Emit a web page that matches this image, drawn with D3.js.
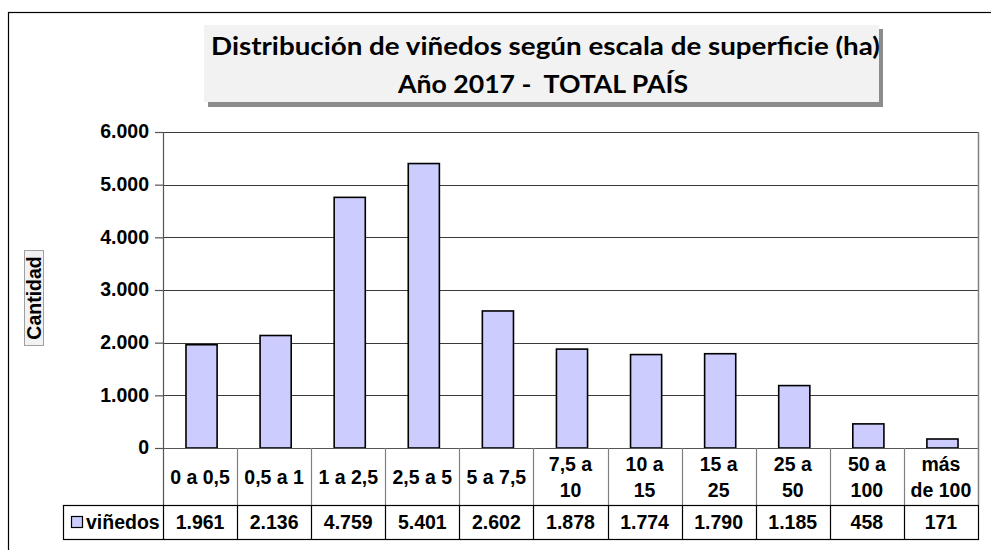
<!DOCTYPE html>
<html>
<head>
<meta charset="utf-8">
<script src="https://cdn.jsdelivr.net/npm/d3@7"></script>
<style>
  html, body { margin: 0; padding: 0; background: #fff; }
  svg { display: block; }
</style>
</head>
<body>
<script>
const categories = [["0 a 0,5"], ["0,5 a 1"], ["1 a 2,5"], ["2,5 a 5"], ["5 a 7,5"], ["7,5 a", "10"], ["10 a", "15"], ["15 a", "25"], ["25 a", "50"], ["50 a", "100"], ["más", "de 100"]];
const values = [1961, 2136, 4759, 5401, 2602, 1878, 1774, 1790, 1185, 458, 171];
const valueLabels = ["1.961", "2.136", "4.759", "5.401", "2.602", "1.878", "1.774", "1.790", "1.185", "458", "171"];
const yTicks = [0, 1000, 2000, 3000, 4000, 5000, 6000];
const yTickLabels = ["0", "1.000", "2.000", "3.000", "4.000", "5.000", "6.000"];
const seriesName = "viñedos";
const titleLines = ["Distribución de viñedos según escala de superficie (ha)", "Año 2017 -  TOTAL PAÍS"];
const yTitle = "Cantidad";

const W = 991, H = 550;
const plot = { left: 163, right: 978, top: 132, bottom: 448 };
const catRowBottom = 505, dataRowBottom = 539, legendLeft = 63;
const barColor = "#ccccff";
const font = "'Liberation Sans', Arial, sans-serif";
const fs = 19.5;

const svg = d3.select("body").append("svg").attr("width", W).attr("height", H);

// outer frame
svg.append("rect").attr("x", 8.5).attr("y", 12.5).attr("width", 1200).attr("height", 800)
  .attr("fill", "#fff").attr("stroke", "#000").attr("stroke-width", 1.2);

const keys = categories.map((c, i) => i);
const x = d3.scaleBand().domain(keys).range([plot.left, plot.right]).padding(0);
const y = d3.scaleLinear().domain([0, 6000]).range([plot.bottom, plot.top]);

// gridlines
svg.append("g").selectAll("line").data(yTicks.filter(t => t > 0)).join("line")
  .attr("x1", plot.left).attr("x2", plot.right)
  .attr("y1", d => Math.round(y(d)) + 0.5).attr("y2", d => Math.round(y(d)) + 0.5)
  .attr("stroke", "#3a3a3a").attr("stroke-width", 1);

// plot border right
svg.append("line").attr("x1", plot.right + 0.5).attr("x2", plot.right + 0.5)
  .attr("y1", plot.top).attr("y2", plot.bottom).attr("stroke", "#808080").attr("stroke-width", 1.5);

// bars
const bw = x.bandwidth() * 0.42;
svg.append("g").selectAll("rect").data(values).join("rect")
  .attr("x", (d, i) => x(i) + (x.bandwidth() - bw) / 2 + 1.5)
  .attr("width", bw)
  .attr("y", d => y(d))
  .attr("height", d => y(0) - y(d))
  .attr("fill", barColor).attr("stroke", "#000").attr("stroke-width", 1.6);

// y axis
const yAxis = d3.axisLeft(y).tickValues(yTicks).tickSize(8).tickPadding(6)
  .tickFormat((d, i) => yTickLabels[i]);
const ga = svg.append("g").attr("transform", `translate(${plot.left},0)`).call(yAxis);
ga.select(".domain").remove();
ga.selectAll(".tick line").attr("stroke", "#555").attr("stroke-width", 1.2);
ga.selectAll(".tick text").attr("font-family", font).attr("font-weight", "bold")
  .attr("font-size", fs).attr("fill", "#000").attr("dy", "0.3em");

// axis lines
svg.append("line").attr("x1", plot.left + 0.5).attr("x2", plot.left + 0.5)
  .attr("y1", plot.top).attr("y2", catRowBottom).attr("stroke", "#555").attr("stroke-width", 1.2);
svg.append("line").attr("x1", plot.left).attr("x2", plot.right + 1)
  .attr("y1", plot.bottom + 0.5).attr("y2", plot.bottom + 0.5).attr("stroke", "#555").attr("stroke-width", 1.2);

// category cells separators (gray)
svg.append("g").selectAll("line").data(keys.slice(1)).join("line")
  .attr("x1", d => Math.round(x(d)) + 0.5).attr("x2", d => Math.round(x(d)) + 0.5)
  .attr("y1", plot.bottom).attr("y2", catRowBottom)
  .attr("stroke", "#808080").attr("stroke-width", 1.2);
svg.append("line").attr("x1", plot.right + 0.5).attr("x2", plot.right + 0.5)
  .attr("y1", plot.bottom).attr("y2", catRowBottom).attr("stroke", "#808080").attr("stroke-width", 1.5);

// category labels
const catG = svg.append("g").selectAll("text").data(categories).join("text")
  .attr("font-family", font).attr("font-weight", "bold").attr("font-size", fs)
  .attr("fill", "#000").attr("text-anchor", "middle")
  .attr("x", (d, i) => x(i) + x.bandwidth() / 2);
catG.each(function (lines) {
  const t = d3.select(this);
  const mid = (plot.bottom + catRowBottom) / 2;
  const lh = 26;
  lines.forEach((ln, j) => {
    t.append("tspan").attr("x", t.attr("x"))
      .attr("y", mid + (j - (lines.length - 1) / 2) * lh + 7)
      .text(ln);
  });
});

// data row (black borders)
svg.append("rect").attr("x", legendLeft + 0.5).attr("y", catRowBottom + 0.5)
  .attr("width", plot.right - legendLeft).attr("height", dataRowBottom - catRowBottom)
  .attr("fill", "none").attr("stroke", "#000").attr("stroke-width", 1.2);
svg.append("g").selectAll("line").data(keys).join("line")
  .attr("x1", d => Math.round(x(d)) + 0.5).attr("x2", d => Math.round(x(d)) + 0.5)
  .attr("y1", catRowBottom).attr("y2", dataRowBottom)
  .attr("stroke", "#000").attr("stroke-width", 1.2);

svg.append("g").selectAll("text").data(valueLabels).join("text")
  .attr("x", (d, i) => x(i) + x.bandwidth() / 2)
  .attr("y", (catRowBottom + dataRowBottom) / 2 + 7)
  .attr("text-anchor", "middle").attr("font-family", font).attr("font-weight", "bold")
  .attr("font-size", fs).attr("fill", "#000").text(d => d);

// legend key
svg.append("rect").attr("x", 71.5).attr("y", 516.5).attr("width", 11).attr("height", 11)
  .attr("fill", barColor).attr("stroke", "#000").attr("stroke-width", 1.2);
svg.append("text").attr("x", 86).attr("y", (catRowBottom + dataRowBottom) / 2 + 7)
  .attr("font-family", font).attr("font-weight", "bold").attr("font-size", fs)
  .attr("fill", "#000").text(seriesName);

// y title box
svg.append("rect").attr("x", 24.5).attr("y", 250.5).attr("width", 19).attr("height", 95)
  .attr("fill", "#f2f2f2").attr("stroke", "#a0a0a0").attr("stroke-width", 1);
svg.append("text").attr("transform", "translate(40.5,298) rotate(-90)")
  .attr("text-anchor", "middle").attr("font-family", font).attr("font-weight", "bold")
  .attr("font-size", fs).attr("fill", "#000").text(yTitle);

// title box with shadow
svg.append("rect").attr("x", 208).attr("y", 29).attr("width", 675).attr("height", 78).attr("fill", "#8c8c8c");
svg.append("rect").attr("x", 204).attr("y", 25).attr("width", 675).attr("height", 77).attr("fill", "#f2f2f2");
const tfont = "Lato, 'Open Sans', sans-serif";
svg.append("text").attr("x", 545.5).attr("y", 55).attr("text-anchor", "middle")
  .attr("font-family", tfont).attr("font-weight", "bold").attr("font-size", 25)
  .attr("textLength", 669).attr("lengthAdjust", "spacingAndGlyphs")
  .attr("fill", "#000").text(titleLines[0]);
svg.append("text").attr("x", 543).attr("y", 93).attr("text-anchor", "middle")
  .attr("font-family", tfont).attr("font-weight", "bold").attr("font-size", 25)
  .attr("textLength", 290).attr("lengthAdjust", "spacingAndGlyphs")
  .style("white-space", "pre")
  .attr("fill", "#000").text(titleLines[1]);
</script>
</body>
</html>
